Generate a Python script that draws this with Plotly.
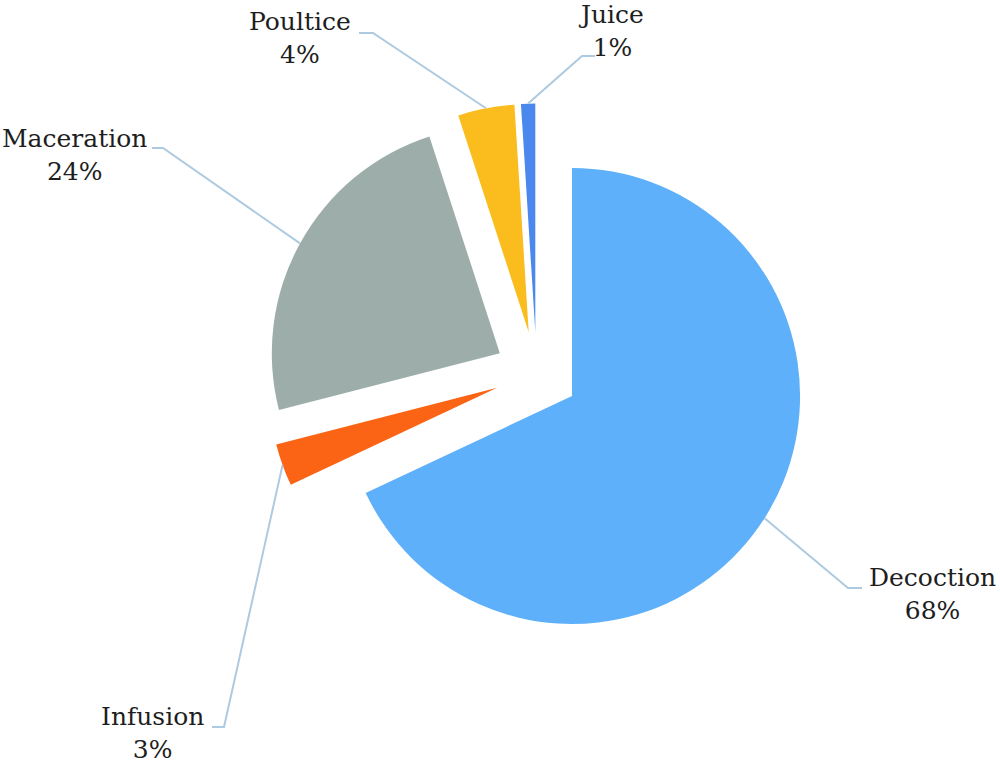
import math
import plotly.graph_objects as go

# ---- data ----
labels = ["Decoction", "Infusion", "Maceration", "Poultice", "Juice"]
values = [68, 3, 24, 4, 1]
colors = ["#5DB0F9", "#FA6414", "#9DADA9", "#FBBD1E", "#4A88EE"]

# ---- layout constants ----
W, H = 1000, 767
PULL = 0.184
DOM_X = [0.2666, 0.8066]
DOM_Y = [0.1610, 0.8651]
FONT = "DejaVu Serif"
LINE_COLOR = "#ADCAE0"

# label block centres (px) and leader elbow points (px): (text-end, elbow)
label_pos = {
    "Decoction": (932, 594),
    "Infusion": (152, 733),
    "Maceration": (74, 155),
    "Poultice": (300, 38),
    "Juice": (611, 31),
}
elbows = {
    "Decoction": ((862, 588), (848, 588)),
    "Infusion": ((212, 727), (224, 727)),
    "Maceration": ((152, 148), (163, 148)),
    "Poultice": ((359, 33), (373, 33)),
    "Juice": ((595, 56), (582, 56)),
}

fig = go.Figure(go.Pie(
    labels=labels, values=values, sort=False, direction="clockwise", rotation=0,
    pull=[PULL] * len(values),
    marker=dict(colors=colors, line=dict(width=0)),
    textinfo="none", hoverinfo="label+percent",
    domain=dict(x=DOM_X, y=DOM_Y), showlegend=False,
))

# pie geometry (mirrors plotly's own scaling)
bw = (DOM_X[1] - DOM_X[0]) * W
bh = (DOM_Y[1] - DOM_Y[0]) * H
r = min(bw, bh) / (2 + 2 * PULL)
cx = W * (DOM_X[0] + DOM_X[1]) / 2
cy = H * (1 - DOM_Y[0]) - bh / 2

def px2paper(x, y):
    return x / W, 1 - y / H

total = sum(values)
cum = 0
shapes = []
annotations = []
for lab, v in zip(labels, values):
    mid = (cum + v / 2) / total * 2 * math.pi
    cum += v
    dx, dy = math.sin(mid), -math.cos(mid)
    ex = cx + (1 + PULL) * r * dx
    ey = cy + (1 + PULL) * r * dy
    (tx, ty), (bx, by) = elbows[lab]
    pts = [px2paper(tx, ty), px2paper(bx, by), px2paper(ex, ey)]
    path = "M {} {} L {} {} L {} {}".format(*[c for p in pts for c in p])
    shapes.append(dict(type="path", xref="paper", yref="paper", path=path,
                       line=dict(color=LINE_COLOR, width=2)))
    lx, ly = px2paper(*label_pos[lab])
    annotations.append(dict(x=lx, y=ly, xref="paper", yref="paper",
                            text=f"{lab}<br>{v}%", showarrow=False,
                            xanchor="center", yanchor="middle", align="center",
                            font=dict(family=FONT, size=25, color="#1E1E1E")))

fig.update_layout(
    width=W, height=H, margin=dict(l=0, r=0, t=0, b=0),
    paper_bgcolor="white", plot_bgcolor="white",
    shapes=shapes, annotations=annotations,
)

fig.write_html(
    "out.html",
    config={"displayModeBar": False},
    post_script="document.body.style.margin='0';document.body.style.overflow='hidden';",
)
